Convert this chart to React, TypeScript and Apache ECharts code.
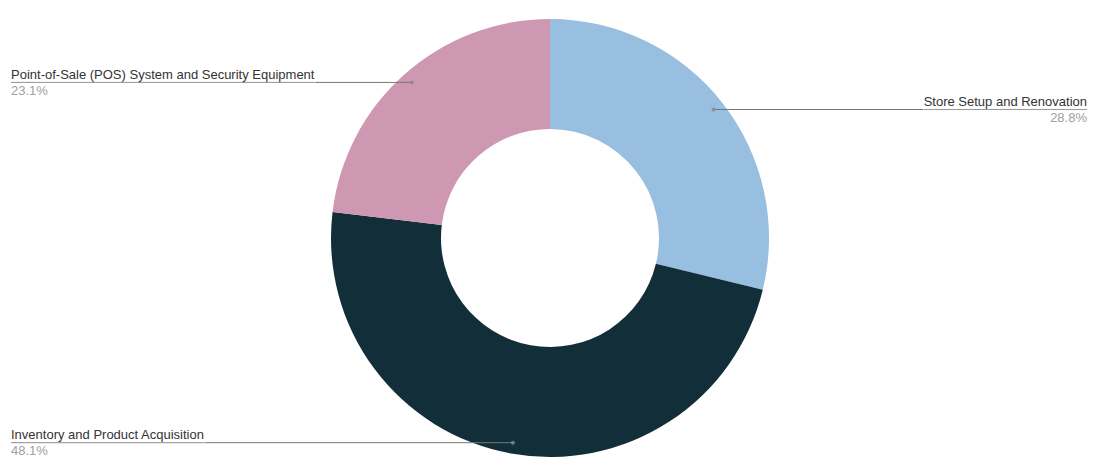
import React, { useEffect, useRef } from "react";
import * as echarts from "echarts";

const categories = [
  "Store Setup and Renovation",
  "Inventory and Product Acquisition",
  "Point-of-Sale (POS) System and Security Equipment",
];
const values = [28.8, 48.1, 23.1];
const colors = ["#98BEE0", "#122E38", "#CE98B2"];

export default function App() {
  const ref = useRef<HTMLDivElement>(null);
  useEffect(() => {
    document.body.style.margin = "0";
    if (!ref.current) return;
    const chart = echarts.init(ref.current, null, { renderer: "svg" });
    const total = values.reduce((a, b) => a + b, 0);
    let acc = 0;
    const mids = values.map((v) => {
      const m = ((acc + v / 2) / total) * 100;
      acc += v;
      return m;
    });
    const font = "'Liberation Sans', Arial, sans-serif";
    chart.setOption({
      animation: false,
      backgroundColor: "#ffffff",
      polar: { center: [550, 238], radius: 208 },
      angleAxis: {
        type: "value",
        min: 0,
        max: 100,
        startAngle: 90,
        clockwise: true,
        show: false,
      },
      radiusAxis: { type: "value", min: 0, max: 1, show: false },
      series: [
        {
          type: "pie",
          center: [550, 238],
          radius: [109, 219],
          startAngle: 90,
          clockwise: true,
          silent: true,
          label: { show: false },
          labelLine: { show: false },
          itemStyle: { borderWidth: 0 },
          data: categories.map((c, i) => ({
            name: c,
            value: values[i],
            itemStyle: { color: colors[i] },
          })),
          z: 1,
        },
        {
          type: "pie",
          center: [550, 238],
          radius: [0, 208],
          startAngle: 90,
          clockwise: true,
          silent: true,
          itemStyle: { color: "rgba(0,0,0,0)", borderWidth: 0 },
          label: {
            show: true,
            position: "outside",
            alignTo: "edge",
            edgeDistance: 11,
            distanceToLabelLine: 0,
            fontFamily: font,
            formatter: (p: any) => `{name|${p.name}}\n{hr|}\n{pct|${p.value}%}`,
            rich: {
              name: { fontSize: 13, color: "#333333", lineHeight: 16, fontFamily: font },
              hr: { width: "100%", height: 0, borderColor: "#777777", borderWidth: 0.5 },
              pct: { fontSize: 13, color: "#a0a0a0", lineHeight: 16, fontFamily: font },
            },
          },
          labelLine: {
            show: true,
            length: 0,
            length2: 10,
            lineStyle: { color: "#777777", width: 1 },
          },
          data: categories.map((c, i) => ({ name: c, value: values[i] })),
          z: 2,
        },
        {
          type: "scatter",
          coordinateSystem: "polar",
          symbol: "circle",
          symbolSize: 4,
          silent: true,
          itemStyle: { color: "#888888" },
          data: mids.map((m) => [1, m]),
          z: 3,
        },
      ],
    });
    return () => chart.dispose();
  }, []);
  return <div ref={ref} style={{ width: 1098, height: 472 }} />;
}
